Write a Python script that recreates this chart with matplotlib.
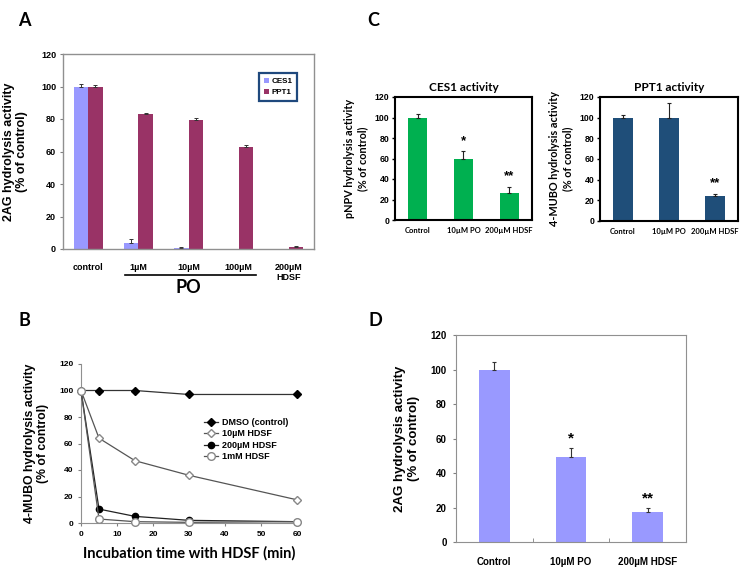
import numpy as np
import matplotlib
matplotlib.use("Agg")
import matplotlib.pyplot as plt
import matplotlib.transforms as mtrans

plt.rcParams['font.family'] = ['Liberation Sans', 'DejaVu Sans']
CAL = ['Lato', 'DejaVu Sans']

# ---------------- data ----------------
a_categories = ["control", "1µM", "10µM", "100µM", "200µM\nHDSF"]
a_ces1 = [100, 3.5, 0.7, 0, 0]
a_ces1_err = [1.5, 2.5, 0.3, 0, 0]
a_ppt1 = [100, 83, 79.5, 63, 1]
a_ppt1_err = [1.0, 1.0, 1.0, 1.2, 0.8]

b_time = [0, 5, 15, 30, 60]
b_dmso = [100, 100, 100, 97, 97]
b_10uM = [100, 64, 47, 36, 17.5]
b_200uM = [100, 10.5, 5, 2, 1]
b_1mM = [100, 3, 1, 0.5, 1]
b_labels = ["DMSO (control)", "10µM HDSF", "200µM HDSF", "1mM HDSF"]

c_categories = ["Control", "10µM PO", "200µM HDSF"]
c_ces1 = [100, 60, 26.5]
c_ces1_err = [3, 7.5, 6]
c_ces1_sig = ["", "*", "**"]
c_ppt1 = [100, 100, 24.5]
c_ppt1_err = [3, 14, 2]
c_ppt1_sig = ["", "", "**"]

d_categories = ["Control", "10µM PO", "200µM HDSF"]
d_vals = [100, 49.5, 17.5]
d_err = [4.5, 5, 2]
d_sig = ["", "*", "**"]

W, H = 750, 572
fig = plt.figure(figsize=(W / 100, H / 100), dpi=100)


def rect(l, r, t, b):
    return [l / W, 1 - b / H, (r - l) / W, (b - t) / H]


# ---------------- Panel A ----------------
axA = fig.add_axes(rect(63, 314, 54, 249))
x = np.arange(len(a_categories))
w = 0.29
bA1 = axA.bar(x - w / 2, a_ces1, w, color='#9999FF', yerr=[np.zeros(5), a_ces1_err],
              error_kw=dict(ecolor='#333333', elinewidth=0.7, capsize=1.5, capthick=0.7))
bA2 = axA.bar(x + w / 2, a_ppt1, w, color='#993366', yerr=[np.zeros(5), a_ppt1_err],
              error_kw=dict(ecolor='#333333', elinewidth=0.7, capsize=1.5, capthick=0.7))
axA.set_xlim(-0.5, 4.5)
axA.set_ylim(0, 120)
axA.set_yticks(range(0, 121, 20))
axA.tick_params(axis='y', labelsize=6.5, length=2, color='#808080', pad=3)
axA.set_xticks(x, a_categories)
axA.tick_params(axis='x', labelsize=6.5, length=0, pad=10)
for lab in axA.get_xticklabels() + axA.get_yticklabels():
    lab.set_fontweight('bold')
for s in axA.spines.values():
    s.set_color('#909090')
    s.set_linewidth(1.0)
axA.set_ylabel("2AG hydrolysis activity\n(% of control)", fontsize=9, fontweight='bold',
               labelpad=9)
tr = mtrans.blended_transform_factory(axA.transData, axA.transAxes)
axA.plot([0.74, 3.34], [-0.133, -0.133], color='black', lw=1.2, transform=tr, clip_on=False)
axA.text(2.0, -0.195, "PO", transform=tr, ha='center', va='center', fontsize=13,
         fontweight='bold', family=CAL)
legA = axA.legend([bA1.patches[0], bA2.patches[0]], ["CES1", "PPT1"], loc='upper left',
                  bbox_to_anchor=(0.772, 0.915),
                  handlelength=0.6, handleheight=0.6, handletextpad=0.3,
                  borderpad=0.6, labelspacing=0.45, borderaxespad=0.3,
                  fancybox=False, framealpha=1,
                  prop=dict(weight='bold', size=5.8))
legA.get_frame().set_edgecolor('#1F497D')
legA.get_frame().set_linewidth(1.6)

# ---------------- Panel B ----------------
axB = fig.add_axes(rect(81, 297, 364, 523))
axB.plot(b_time, b_dmso, color='#333333', lw=0.9, marker='D', ms=4, mfc='black', mec='black',
         label=b_labels[0], clip_on=False, zorder=5)
axB.plot(b_time, b_10uM, color='#555555', lw=0.9, marker='D', ms=4, mfc='white', mec='#888888',
         label=b_labels[1], clip_on=False, zorder=4)
axB.plot(b_time, b_200uM, color='#222222', lw=0.9, marker='o', ms=4.5, mfc='black', mec='black',
         label=b_labels[2], clip_on=False, zorder=5)
axB.plot(b_time, b_1mM, color='#555555', lw=0.9, marker='o', ms=5.5, mfc='white', mec='#888888',
         label=b_labels[3], clip_on=False, zorder=6)
axB.set_xlim(0, 60)
axB.set_ylim(0, 120)
axB.set_xticks(range(0, 61, 10))
axB.set_yticks(range(0, 121, 20))
axB.tick_params(labelsize=6, length=2.5, color='#808080', pad=3)
for lab in axB.get_xticklabels() + axB.get_yticklabels():
    lab.set_fontweight('bold')
axB.spines['top'].set_visible(False)
axB.spines['right'].set_visible(False)
axB.spines['left'].set_color('#909090')
axB.spines['bottom'].set_color('#909090')
axB.set_ylabel("4-MUBO hydrolysis activity\n(% of control)", fontsize=8.8, fontweight='bold',
               labelpad=7)
axB.set_xlabel("Incubation time with HDSF (min)", fontsize=10.5, fontweight='bold',
               family=CAL, labelpad=6)
axB.legend(loc='upper left', bbox_to_anchor=(0.53, 0.71), frameon=False, handlelength=1.6,
           handletextpad=0.4, labelspacing=0.25, prop=dict(weight='bold', size=6.5))

# ---------------- Panel C ----------------
def cpanel(rc, vals, errs, sig, color, title, ylabel):
    ax = fig.add_axes(rc)
    xc = np.arange(3)
    ax.bar(xc, vals, 0.42, color=color, yerr=[np.zeros(3), errs],
           error_kw=dict(ecolor='#222222', elinewidth=0.8, capsize=1.5, capthick=0.8))
    for xi, v, e, s in zip(xc, vals, errs, sig):
        if s:
            ax.text(xi, v + e + 4, s, ha='center', va='bottom', fontsize=9.5, fontweight='bold')
    ax.set_xlim(-0.5, 2.5)
    ax.set_ylim(0, 120)
    ax.set_yticks(range(0, 121, 20))
    ax.tick_params(axis='y', labelsize=6.3, length=2, width=1, pad=2)
    ax.set_xticks(xc, c_categories)
    ax.tick_params(axis='x', labelsize=5.5, length=0, pad=5)
    for lab in ax.get_yticklabels():
        lab.set_fontweight('bold')
    for lab in ax.get_xticklabels():
        lab.set_fontweight('bold')
        lab.set_family(CAL)
    for s in ax.spines.values():
        s.set_linewidth(1.5)
    ax.set_title(title, fontsize=8.5, fontweight='bold', family=CAL, pad=4)
    ax.set_ylabel(ylabel, fontsize=7.8, fontweight='bold', family=CAL, labelpad=5)
    return ax


cpanel(rect(395, 532, 97, 220), c_ces1, c_ces1_err, c_ces1_sig, '#00B050', "CES1 activity",
       "pNPV hydrolysis activity\n(% of control)")
cpanel(rect(600, 738, 97, 221), c_ppt1, c_ppt1_err, c_ppt1_sig, '#1F4E79', "PPT1 activity",
       "4-MUBO hydrolysis activity\n(% of control)")

# ---------------- Panel D ----------------
axD = fig.add_axes(rect(456, 686, 335, 542))
xd = np.arange(3)
axD.bar(xd, d_vals, 0.4, color='#9999FF', yerr=[np.zeros(3), d_err],
        error_kw=dict(ecolor='#333333', elinewidth=0.8, capsize=1.5, capthick=0.8))
for xi, v, e, s in zip(xd, d_vals, d_err, d_sig):
    if s:
        axD.text(xi, v + e + 1.5, s, ha='center', va='bottom', fontsize=11, fontweight='bold')
axD.set_xlim(-0.5, 2.5)
axD.set_ylim(0, 120)
axD.set_yticks(range(0, 121, 20))
axD.tick_params(axis='y', labelsize=7, length=2.5, color='#808080', pad=4)
axD.set_xticks(xd, d_categories)
axD.tick_params(axis='x', labelsize=7, length=0, pad=11)
axD.set_xticks([0.5, 1.5], minor=True)
axD.tick_params(axis='x', which='minor', direction='in', length=3, color='#808080')
for lab in axD.get_xticklabels() + axD.get_yticklabels():
    lab.set_fontweight('bold')
for s in axD.spines.values():
    s.set_color('#909090')
axD.set_ylabel("2AG hydrolysis activity\n(% of control)", fontsize=9.5, fontweight='bold',
               labelpad=8)

# ---------------- panel letters ----------------
for txt, px, py in [("A", 18, 21), ("C", 367, 20), ("B", 18, 320), ("D", 368, 320)]:
    fig.text(px / W, 1 - py / H, txt, fontsize=13, fontweight='bold', family=CAL,
             ha='left', va='center')

fig.savefig("out.png", dpi=100)
